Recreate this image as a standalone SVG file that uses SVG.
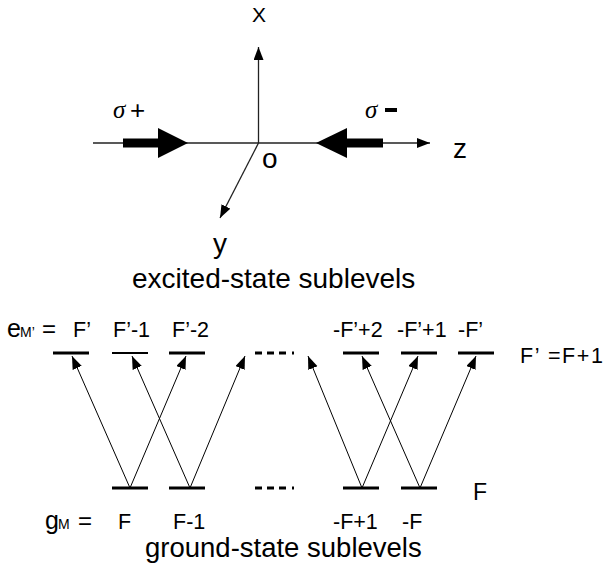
<svg xmlns="http://www.w3.org/2000/svg" width="606" height="570" viewBox="0 0 606 570">
<style>
text{font-family:"Liberation Sans",Arial,sans-serif;fill:#000}
.t21{font-size:21.5px}
.big{font-size:28px}
.sub{font-size:14px}
.lvl{stroke:#000;stroke-width:3;fill:none}
.ax{stroke:#222;stroke-width:1.3;fill:none}
.tr{stroke:#000;stroke-width:1;fill:none}
.sig{font-family:"Liberation Serif","DejaVu Serif",serif;font-size:25px;font-style:italic}
</style>
<defs>
<marker id="ah" markerUnits="userSpaceOnUse" markerWidth="14" markerHeight="12" refX="13" refY="5" orient="auto">
<path d="M0,0 L13,5 L0,10 Z" fill="#000"/>
</marker>
</defs>
<rect width="606" height="570" fill="#fff"/>

<g id="axes">
<line class="ax" x1="93" y1="143" x2="430" y2="143" marker-end="url(#ah)"/>
<line class="ax" x1="258.5" y1="143" x2="258.5" y2="47" marker-end="url(#ah)"/>
<line class="ax" x1="258.5" y1="143" x2="220" y2="218" marker-end="url(#ah)"/>
<text x="252" y="22" style="font-size:21px">X</text>
<text class="big" x="453" y="158">z</text>
<text class="big" x="213" y="253">y</text>
<text class="big" x="262" y="168">o</text>
</g>

<g id="sigma-plus">
<rect x="123" y="138.5" width="36" height="9" fill="#000"/>
<path d="M158,128 L188,143 L158,158 Z" fill="#000"/>
<text class="sig" x="113" y="118">σ</text>
<text x="130" y="119" style="font-size:26px">+</text>
</g>
<g id="sigma-minus">
<rect x="346" y="138.5" width="37" height="9" fill="#000"/>
<path d="M347,128 L316,143 L347,158 Z" fill="#000"/>
<text class="sig" x="365" y="118">σ</text>
<rect x="385" y="108" width="12" height="4" fill="#000"/>
</g>

<text id="excited-title" class="big" x="132" y="288">excited-state sublevels</text>
<text id="ground-title" class="big" x="145" y="557" style="font-size:27.5px">ground-state sublevels</text>

<g id="excited-labels">
<text x="7" y="337" style="font-size:25px">e</text>
<text class="sub" x="20" y="337">M’</text>
<text x="42" y="337" style="font-size:24px">=</text>
<text class="t21" x="73" y="337">F’</text>
<text class="t21" x="113" y="337">F’-1</text>
<text class="t21" x="172" y="337">F’-2</text>
<text class="t21" x="333" y="337">-F’+2</text>
<text class="t21" x="397" y="337">-F’+1</text>
<text class="t21" x="458" y="337">-F’</text>
<text class="t21" x="520" y="363" textLength="83">F’ =F+1</text>
</g>

<g id="ground-labels">
<text x="45" y="529" style="font-size:25px">g</text>
<text class="sub" x="58" y="529">M</text>
<text x="78" y="529" style="font-size:24px">=</text>
<text class="t21" x="118" y="529">F</text>
<text class="t21" x="173" y="529">F-1</text>
<text class="t21" x="333" y="529">-F+1</text>
<text class="t21" x="402" y="529">-F</text>
<text x="473" y="500" style="font-size:23px">F</text>
</g>

<g id="excited-levels">
<line class="lvl" x1="53" y1="353" x2="89" y2="353"/>
<line class="lvl" x1="112" y1="353" x2="148" y2="353" style="stroke-width:2"/>
<line class="lvl" x1="169" y1="353" x2="205" y2="353"/>
<line class="lvl" x1="255" y1="353" x2="294" y2="353" stroke-dasharray="7 5 7 5 7 6 2 20"/>
<line class="lvl" x1="343" y1="353" x2="379" y2="353"/>
<line class="lvl" x1="401" y1="353" x2="437" y2="353"/>
<line class="lvl" x1="458" y1="353" x2="494" y2="353"/>
</g>

<g id="ground-levels">
<line class="lvl" x1="112" y1="488" x2="148" y2="488"/>
<line class="lvl" x1="169" y1="488" x2="205" y2="488"/>
<line class="lvl" x1="255" y1="488" x2="294" y2="488" stroke-dasharray="7 5 7 5 7 6 2 20"/>
<line class="lvl" x1="343" y1="488" x2="379" y2="488"/>
<line class="lvl" x1="401" y1="488" x2="437" y2="488"/>
</g>

<g id="connectors">
<line class="tr" x1="130" y1="488" x2="72" y2="356" marker-end="url(#ah)"/>
<line class="tr" x1="130" y1="488" x2="186" y2="356" marker-end="url(#ah)"/>
<line class="tr" x1="190" y1="488" x2="132" y2="356" marker-end="url(#ah)"/>
<line class="tr" x1="190" y1="488" x2="245" y2="356" marker-end="url(#ah)"/>
<line class="tr" x1="362" y1="488" x2="308" y2="356" marker-end="url(#ah)"/>
<line class="tr" x1="362" y1="488" x2="418" y2="356" marker-end="url(#ah)"/>
<line class="tr" x1="420" y1="488" x2="362" y2="356" marker-end="url(#ah)"/>
<line class="tr" x1="420" y1="488" x2="476" y2="356" marker-end="url(#ah)"/>
</g>
</svg>
